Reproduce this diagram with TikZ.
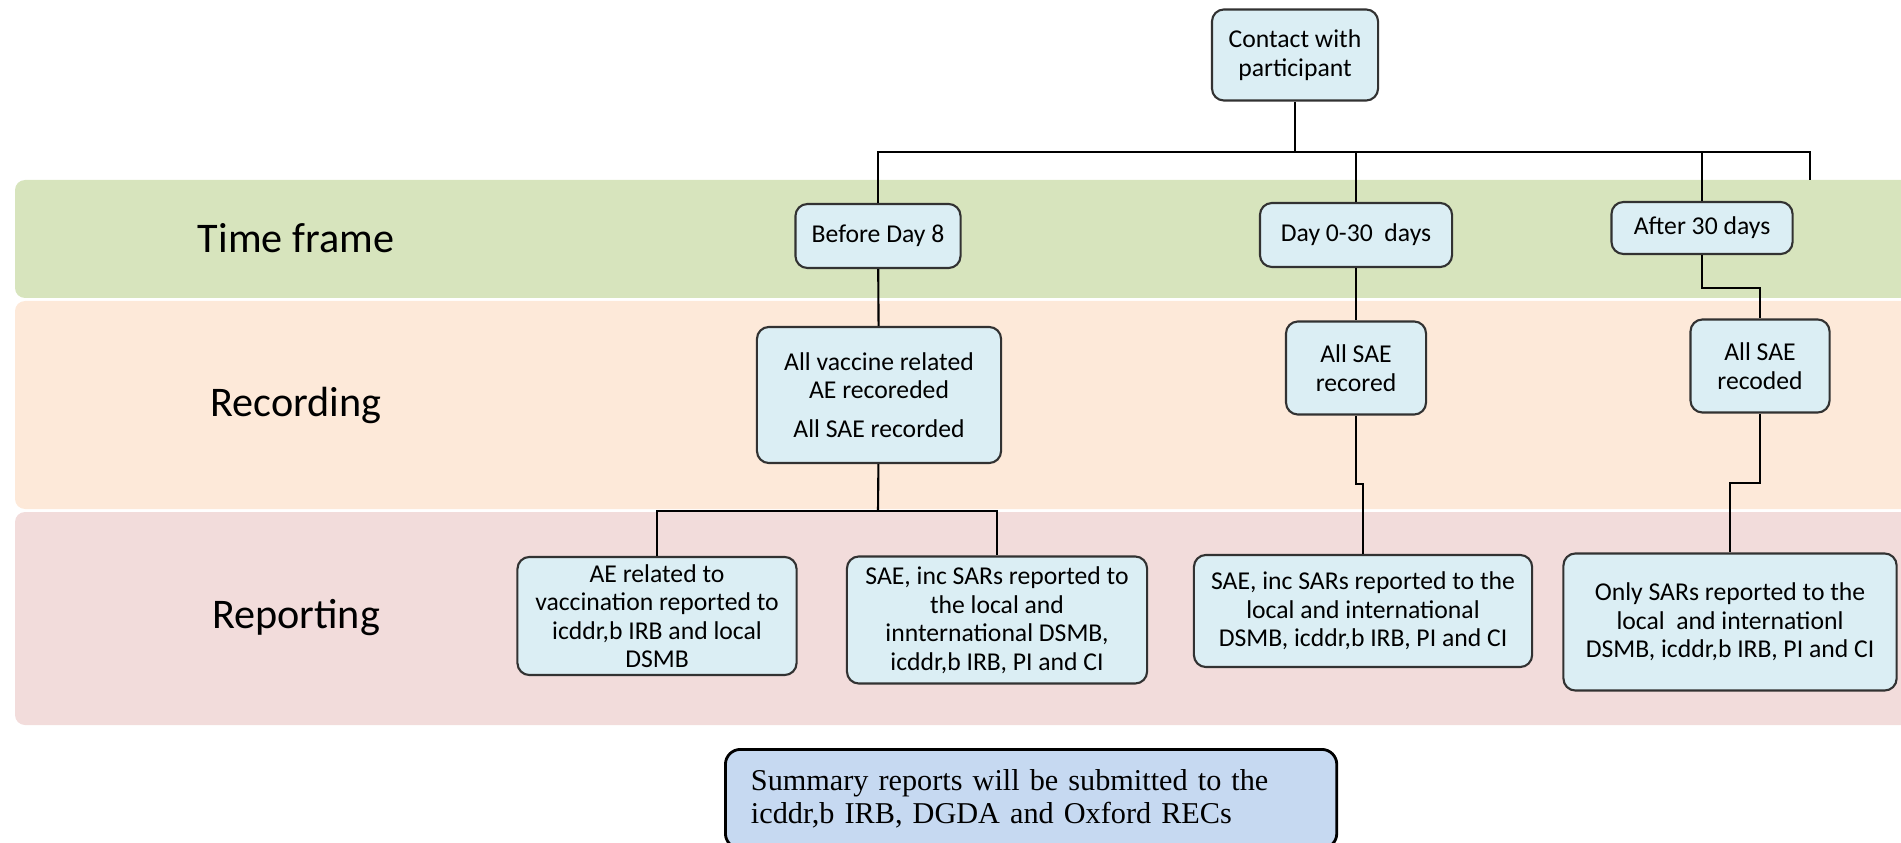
\documentclass[tikz,border=0pt]{standalone}
\usepackage{fontspec}
\setmainfont{Carlito}
\newfontfamily\notefont{Liberation Serif}
\definecolor{bandgreen}{RGB}{215,228,189}
\definecolor{bandpeach}{RGB}{253,233,217}
\definecolor{bandrose}{RGB}{242,220,219}
\definecolor{boxblue}{RGB}{219,238,244}
\definecolor{noteblue}{RGB}{198,217,241}
\definecolor{edgegray}{RGB}{50,50,50}

\begin{document}
\begin{tikzpicture}[x = 0.01cm, y = -0.01cm, line width = 0.6pt,
                        stage/.style = {draw = edgegray, fill = boxblue, rounded corners = 0.12cm, align = center, inner sep = 0pt, font = \fontsize{7.3}{8.1}\selectfont},
                        lane/.style = {font = \fontsize{12}{14}\selectfont},
                        band/.style = {rounded corners = 0.1cm}]
      \useasboundingbox (0, 0) rectangle (1901, 843);
      \clip (0, 0) rectangle (1901, 843);
      % bands
      \fill [bandgreen, band] (15, 180) rectangle (1940, 298);
      \fill [bandpeach, band] (15, 301) rectangle (1940, 509);
      \fill [bandrose, band] (15, 512) rectangle (1940, 725);
      \node [lane] (ltime) at (296, 238) {Time frame};
      \node [lane] (lrec) at (296, 405) {Recording};
      \node [lane] (lrep) at (296, 618) {Reporting};
      % boxes
      \node [stage, minimum width = 1.66cm, minimum height = 0.91cm] (contact) at (1295, 55) {Contact with\\participant};
      \node [stage, minimum width = 1.65cm, minimum height = 0.64cm] (before) at (878, 236) {Before Day 8};
      \node [stage, minimum width = 1.92cm, minimum height = 0.64cm] (day30) at (1356, 235) {Day 0-30\ \ days};
      \node [stage, minimum width = 1.81cm, minimum height = 0.52cm] (after30) at (1702, 228) {After 30 days};
      \node [stage, minimum width = 2.44cm, minimum height = 1.36cm] (vacc) at (879, 395) {All vaccine related\\AE recoreded\\[3pt]All SAE recorded};
      \node [stage, minimum width = 1.40cm, minimum height = 0.93cm] (sae30) at (1356, 368) {All SAE\\recored};
      \node [stage, minimum width = 1.39cm, minimum height = 0.93cm] (sae40) at (1760, 366) {All SAE\\recoded};
      \node [stage, minimum width = 2.79cm, minimum height = 1.18cm] (aerep) at (657, 616) {AE related to\\vaccination reported to\\icddr,b IRB and local\\DSMB};
      \node [stage, minimum width = 3.00cm, minimum height = 1.27cm] (saerep) at (997, 620) {SAE, inc SARs reported to\\the local and\\innternational DSMB,\\icddr,b IRB, PI and CI};
      \node [stage, minimum width = 3.38cm, minimum height = 1.12cm] (sae30rep) at (1363, 611) {SAE, inc SARs reported to the\\local and international\\DSMB, icddr,b IRB, PI and CI};
      \node [stage, minimum width = 3.33cm, minimum height = 1.37cm] (onlysar) at (1730, 622) {Only SARs reported to the\\local\ \ and internationl\\DSMB, icddr,b IRB, PI and CI};
      \node [draw, fill = noteblue, rounded corners = 0.15cm, line width = 0.8pt, anchor = north west, text width = 5.6cm, align = left, inner xsep = 0.255cm, inner ysep = 0.2cm, font = \notefont\fontsize{8.6}{9.5}\selectfont] (summary) at (724, 748) {Summary reports will be submitted to the\\icddr,b IRB, DGDA and Oxford RECs};
      % connectors
      \coordinate (split) at (1295, 152);
      \coordinate (overrun) at (1810, 180);
      \coordinate (vsplit) at (878, 511);
      \coordinate (jog3) at (1356, 484);
      \coordinate (jog4a) at (1702, 288);
      \coordinate (jog4b) at (1760, 483);
      \draw (contact) -- (split);
      \draw (split) -| (before);
      \draw (split) -| (day30);
      \draw (split) -| (after30);
      \draw (split) -| (overrun);
      \draw (before) -- (vacc);
      \draw (vacc) -- (vsplit);
      \draw (vsplit) -| (aerep);
      \draw (vsplit) -| (saerep);
      \draw (day30) -- (sae30);
      \draw (sae30) -- (jog3) -| (sae30rep);
      \draw (after30) -- (jog4a) -| (sae40);
      \draw (sae40) -- (jog4b) -| (onlysar);
    \end{tikzpicture}
\end{document}
